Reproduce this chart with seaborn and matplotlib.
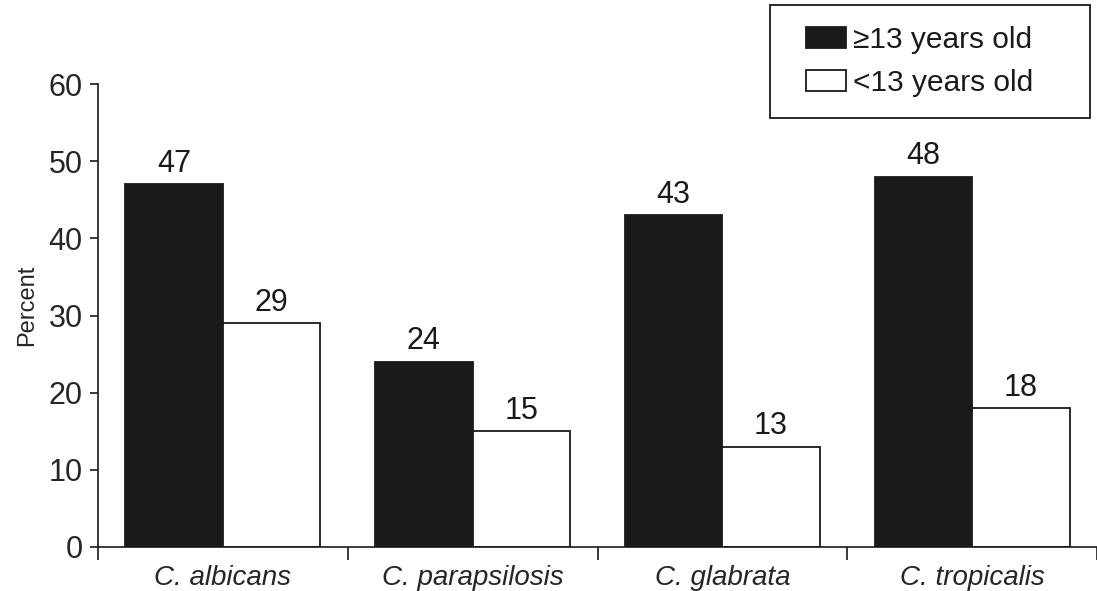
import matplotlib
matplotlib.use("Agg")
import matplotlib.pyplot as plt
from matplotlib.patches import Rectangle
import seaborn as sns
import pandas as pd

species = ["C. albicans", "C. parapsilosis", "C. glabrata", "C. tropicalis"]
groups = ["\u226513 years old", "<13 years old"]
older = [47, 24, 43, 48]
younger = [29, 15, 13, 18]
yticks = [0, 10, 20, 30, 40, 50, 60]

df = pd.DataFrame({
    "species": species * 2,
    "group": [groups[0]] * 4 + [groups[1]] * 4,
    "percent": older + younger,
})

sns.set_theme(style="ticks")
plt.rcParams["font.family"] = ["Liberation Sans", "DejaVu Sans"]
plt.rcParams["text.color"] = "#1a1a1a"

W, H = 1097, 591
fig = plt.figure(figsize=(W / 100, H / 100), dpi=100)
ax = fig.add_axes([98 / W, 1 - 547 / H, 1 - 98 / W, (547 - 84) / H])

sns.barplot(data=df, x="species", y="percent", hue="group", order=species,
            hue_order=groups, palette=["#1a1a1a", "white"], width=0.78,
            edgecolor="#1a1a1a", linewidth=1.3, saturation=1, ax=ax, legend=False)

for c in ax.containers:
    ax.bar_label(c, labels=[f"{v:.0f}" for v in c.datavalues], padding=4,
                 fontsize=22, color="#1a1a1a")

ax.set_ylim(0, 60)
ax.set_yticks(yticks)
ax.set_xlim(-0.5, -0.5 + 999 / 252)
ax.set_xticks(range(len(species)))
ax.set_xticklabels(species, fontsize=20, style="italic")
ax.set_xticks([-0.5, 0.5, 1.5, 2.5, 3.5], minor=True)
ax.tick_params(axis="x", which="major", length=0, pad=13)
ax.tick_params(axis="x", which="minor", length=9, width=1.2, color="#1a1a1a")
ax.tick_params(axis="y", which="major", length=6, width=1.2, color="#1a1a1a",
               labelsize=22, pad=5)
ax.set_ylabel("Percent", fontsize=17)
ax.yaxis.set_label_coords(-0.06, 0.523)
ax.set_xlabel("")
for s in ["top", "right"]:
    ax.spines[s].set_visible(False)
for s in ["left", "bottom"]:
    ax.spines[s].set_color("#1a1a1a")
    ax.spines[s].set_linewidth(1.2)

handles = [Rectangle((0, 0), 1, 1, facecolor="#1a1a1a", edgecolor="#1a1a1a", linewidth=1.3),
           Rectangle((0, 0), 1, 1, facecolor="white", edgecolor="#1a1a1a", linewidth=1.3)]
leg = fig.legend(handles, groups, loc="upper left", bbox_to_anchor=(806 / W, 1 - 26 / H),
                 fontsize=21.5, frameon=False, handlelength=1.35,
                 handleheight=0.67, handletextpad=0.22, borderpad=0, labelspacing=0.5,
                 borderaxespad=0)
fig.patches.append(Rectangle((770 / W, 1 - 118 / H), 320 / W, 113 / H,
                             transform=fig.transFigure, fill=False,
                             edgecolor="#1a1a1a", linewidth=1.3))

fig.savefig("out.png", dpi=100)
